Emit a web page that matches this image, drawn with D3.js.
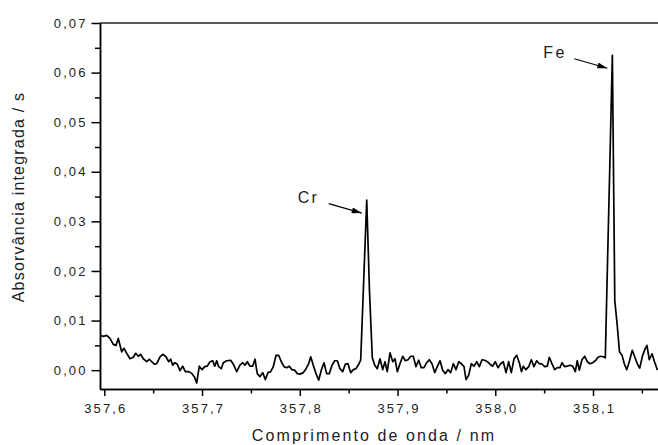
<!DOCTYPE html>
<html>
<head>
<meta charset="utf-8">
<script src="https://cdn.jsdelivr.net/npm/d3@7"></script>
<style>
  body { margin: 0; background: #fff; }
  svg { display: block; font-family: "Liberation Sans", Arial, sans-serif; }
</style>
</head>
<body>
<div id="chart"></div>
<script>
// Data
const wavelength = [
  357.5956, 357.5990, 357.6025, 357.6058, 357.6092, 357.6120, 357.6143, 357.6178, 357.6202, 357.6229,
  357.6263, 357.6297, 357.6321, 357.6348, 357.6372, 357.6399, 357.6434, 357.6460, 357.6485, 357.6512,
  357.6536, 357.6570, 357.6598, 357.6631, 357.6659, 357.6679, 357.6700, 357.6720, 357.6747, 357.6774,
  357.6802, 357.6829, 357.6864, 357.6897, 357.6925, 357.6945, 357.6972, 357.7000, 357.7027, 357.7054,
  357.7081, 357.7109, 357.7130, 357.7150, 357.7170, 357.7197, 357.7217, 357.7252, 357.7293, 357.7320,
  357.7355, 357.7388, 357.7416, 357.7440, 357.7463, 357.7491, 357.7518, 357.7542, 357.7565, 357.7593,
  357.7621, 357.7647, 357.7675, 357.7702, 357.7729, 357.7757, 357.7784, 357.7811, 357.7839, 357.7866,
  357.7893, 357.7920, 357.7948, 357.7975, 357.8002, 357.8036, 357.8064, 357.8091, 357.8112, 357.8138,
  357.8166, 357.8194, 357.8220, 357.8248, 357.8275, 357.8302, 357.8330, 357.8357, 357.8384, 357.8411,
  357.8439, 357.8466, 357.8493, 357.8521, 357.8548, 357.8575, 357.8603, 357.8623, 357.8652, 357.8685,
  357.8713, 357.8742, 357.8767, 357.8793, 357.8821, 357.8848, 357.8872, 357.8895, 357.8923, 357.8951,
  357.8974, 357.8998, 357.9025, 357.9053, 357.9080, 357.9107, 357.9135, 357.9161, 357.9189, 357.9217,
  357.9243, 357.9271, 357.9298, 357.9325, 357.9353, 357.9380, 357.9407, 357.9435, 357.9462, 357.9489,
  357.9516, 357.9544, 357.9571, 357.9598, 357.9626, 357.9653, 357.9680, 357.9701, 357.9728, 357.9755,
  357.9782, 357.9810, 357.9837, 357.9864, 357.9892, 357.9919, 357.9946, 357.9974, 358.0000, 358.0028,
  358.0056, 358.0082, 358.0110, 358.0137, 358.0164, 358.0192, 358.0219, 358.0246, 358.0268, 358.0287,
  358.0314, 358.0342, 358.0369, 358.0396, 358.0424, 358.0451, 358.0478, 358.0506, 358.0532, 358.0553,
  358.0580, 358.0608, 358.0635, 358.0662, 358.0683, 358.0710, 358.0737, 358.0765, 358.0792, 358.0819,
  358.0839, 358.0860, 358.0887, 358.0915, 358.0942, 358.0969, 358.0997, 358.1024, 358.1051, 358.1079,
  358.1105, 358.1126, 358.1150, 358.1174, 358.1198, 358.1223, 358.1248, 358.1271, 358.1297, 358.1320,
  358.1345, 358.1371, 358.1402, 358.1427, 358.1453, 358.1478, 358.1508, 358.1535, 358.1552, 358.1576,
  358.1604, 358.1629, 358.1660
];

const absorbance = [
  0.0070, 0.0068, 0.0070, 0.0064, 0.0052, 0.0050, 0.0064, 0.0037, 0.0044, 0.0034,
  0.0023, 0.0026, 0.0034, 0.0028, 0.0032, 0.0023, 0.0017, 0.0022, 0.0017, 0.0012,
  0.0013, 0.0027, 0.0032, 0.0027, 0.0017, 0.0022, 0.0010, 0.0015, 0.0012, -0.0001,
  0.0008, -0.0003, -0.0003, -0.0007, -0.0015, -0.0026, 0.0008, 0.0001, 0.0007, 0.0008,
  0.0017, 0.0019, 0.0008, 0.0019, 0.0007, 0.0003, 0.0015, 0.0019, 0.0020, 0.0012,
  -0.0003, 0.0010, 0.0015, 0.0010, 0.0017, 0.0008, 0.0008, 0.0022, -0.0007, -0.0013,
  -0.0005, -0.0019, -0.0005, -0.0003, 0.0007, 0.0030, 0.0030, 0.0017, 0.0007, 0.0005,
  0.0008, 0.0001, 0.0000, -0.0007, -0.0008, -0.0005, 0.0003, 0.0013, 0.0027, 0.0010,
  -0.0007, -0.0020, 0.0000, 0.0015, -0.0007, -0.0007, 0.0010, 0.0019, 0.0019, 0.0003,
  -0.0003, 0.0012, 0.0013, -0.0005, 0.0001, 0.0003, 0.0012, 0.0020, 0.0170, 0.0343,
  0.0160, 0.0025, 0.0010, 0.0003, 0.0023, 0.0001, 0.0017, -0.0003, 0.0035, 0.0017,
  0.0023, -0.0003, 0.0013, 0.0028, 0.0019, 0.0021, 0.0028, 0.0028, 0.0007, 0.0020,
  0.0005, 0.0005, 0.0015, 0.0021, 0.0013, -0.0005, 0.0007, 0.0019, 0.0000, -0.0007,
  0.0001, -0.0005, 0.0013, 0.0001, 0.0017, 0.0013, 0.0007, -0.0019, -0.0010, 0.0013,
  0.0008, 0.0017, 0.0007, 0.0021, 0.0020, 0.0017, 0.0012, 0.0008, 0.0017, 0.0005,
  0.0013, 0.0017, -0.0005, 0.0017, -0.0005, 0.0023, 0.0030, 0.0015, -0.0003, 0.0008,
  0.0001, 0.0007, 0.0021, 0.0007, 0.0019, 0.0013, 0.0012, 0.0007, 0.0008, 0.0026,
  0.0013, 0.0001, 0.0005, 0.0005, 0.0015, 0.0007, 0.0008, 0.0010, 0.0008, -0.0003,
  0.0019, 0.0000, 0.0021, 0.0028, 0.0017, 0.0013, 0.0015, 0.0019, 0.0026, 0.0028,
  0.0027, 0.0025, 0.0230, 0.0430, 0.0635, 0.0140, 0.0090, 0.0037, 0.0030, 0.0013,
  0.0001, 0.0017, 0.0040, 0.0027, 0.0013, 0.0004, 0.0030, 0.0044, 0.0050, 0.0021,
  0.0033, 0.0017, 0.0000
];

const peaks = [
  {label: "Cr", wavelength: 357.8685},
  {label: "Fe", wavelength: 358.1198}
];

const xTicks = [357.6, 357.7, 357.8, 357.9, 358.0, 358.1];
const xMinorTicks = [357.65, 357.75, 357.85, 357.95, 358.05, 358.15];
const yTicks = [0.00, 0.01, 0.02, 0.03, 0.04, 0.05, 0.06, 0.07];
const yMinorTicks = [0.005, 0.015, 0.025, 0.035, 0.045, 0.055, 0.065];

const width = 658, height = 445;
const margin = {top: 23, right: 0, bottom: 56, left: 100};

const svg = d3.select("#chart").append("svg")
    .attr("width", width)
    .attr("height", height);

const x = d3.scaleLinear()
    .domain([357.5956, 358.1665])
    .range([margin.left, width - margin.right]);

const y = d3.scaleLinear()
    .domain([-0.0038, 0.07])
    .range([height - margin.bottom, margin.top]);

const comma = f => d => d3.format(f)(d).replace(".", ",");

// top frame line
svg.append("line")
    .attr("x1", margin.left).attr("x2", width)
    .attr("y1", margin.top).attr("y2", margin.top)
    .attr("stroke", "#222")
    .attr("stroke-width", 1.5);

// axes
const xAxis = svg.append("g")
    .attr("transform", `translate(0,${height - margin.bottom})`)
    .call(d3.axisBottom(x).tickValues(xTicks).tickSize(7).tickSizeOuter(0).tickPadding(8).tickFormat(comma(".1f")));

svg.append("g")
    .attr("transform", `translate(0,${height - margin.bottom})`)
    .call(d3.axisBottom(x).tickValues(xMinorTicks).tickSize(4.5).tickSizeOuter(0).tickFormat(""));

const yAxis = svg.append("g")
    .attr("transform", `translate(${margin.left},0)`)
    .call(d3.axisLeft(y).tickValues(yTicks).tickSize(8.5).tickSizeOuter(0).tickPadding(5).tickFormat(comma(".2f")));

svg.append("g")
    .attr("transform", `translate(${margin.left},0)`)
    .call(d3.axisLeft(y).tickValues(yMinorTicks).tickSize(5).tickSizeOuter(0).tickFormat(""));

svg.selectAll(".domain, .tick line")
    .attr("stroke", "#000")
    .attr("stroke-width", 1.5);

xAxis.selectAll("text")
    .attr("font-size", 13)
    .attr("letter-spacing", 2.1)
    .attr("dx", 1)
    .attr("fill", "#222");

yAxis.selectAll("text")
    .attr("font-size", 13)
    .attr("letter-spacing", 2.1)
    .attr("dx", 1)
    .attr("fill", "#222");

// axis titles
svg.append("text")
    .attr("x", (margin.left + width) / 2 - 5)
    .attr("y", 441)
    .attr("text-anchor", "middle")
    .attr("font-size", 16)
    .attr("letter-spacing", 2.1)
    .attr("fill", "#222")
    .text("Comprimento de onda / nm");

svg.append("text")
    .attr("transform", `translate(24,${(margin.top + height - margin.bottom) / 2 - 9}) rotate(-90)`)
    .attr("text-anchor", "middle")
    .attr("font-size", 16)
    .attr("letter-spacing", 1.2)
    .attr("fill", "#222")
    .text("Absorvância integrada / s");

// spectrum
const points = wavelength.map((w, i) => ({w: w, a: absorbance[i]}));

svg.append("path")
    .datum(points)
    .attr("fill", "none")
    .attr("stroke", "#000")
    .attr("stroke-width", 1.7)
    .attr("stroke-linejoin", "round")
    .attr("d", d3.line().x(d => x(d.w)).y(d => y(d.a)));

// peak annotations
svg.append("defs").append("marker")
    .attr("id", "arrow")
    .attr("markerUnits", "userSpaceOnUse")
    .attr("viewBox", "0 0 10 6")
    .attr("refX", 10).attr("refY", 3)
    .attr("markerWidth", 11).attr("markerHeight", 6)
    .attr("orient", "auto")
    .append("path")
    .attr("d", "M0,0L10,3L0,6Z")
    .attr("fill", "#000");

peaks.forEach(p => {
    const a = absorbance[wavelength.indexOf(p.wavelength)];
    const px = x(p.wavelength), py = y(a);
    svg.append("line")
        .attr("x1", px - 38).attr("y1", py + 3.5)
        .attr("x2", px - 5).attr("y2", py + 13)
        .attr("stroke", "#000")
        .attr("stroke-width", 1.2)
        .attr("marker-end", "url(#arrow)");
    svg.append("text")
        .attr("x", px - 69)
        .attr("y", py + 2.5)
        .attr("font-size", 16)
        .attr("letter-spacing", 2.3)
        .attr("fill", "#222")
        .text(p.label);
});
</script>
</body>
</html>
